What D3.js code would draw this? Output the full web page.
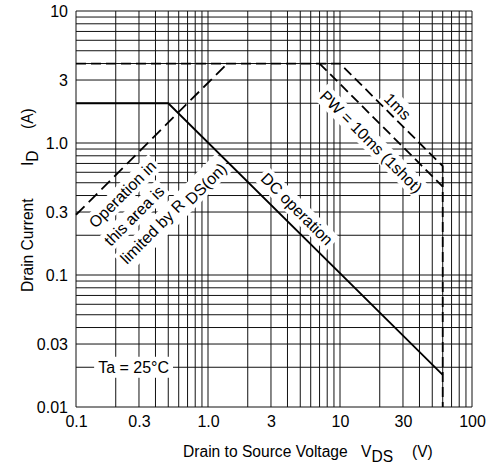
<!DOCTYPE html>
<html>
<head>
<meta charset="utf-8">
<script src="https://cdn.jsdelivr.net/npm/d3@7"></script>
<style>
  html, body { margin: 0; padding: 0; background: #fff; }
  svg { display: block; font-family: "Liberation Sans", Arial, Helvetica, sans-serif; }
</style>
</head>
<body>
<svg id="chart" width="490" height="470"></svg>
<script>
// Axis ticks (log scales)
const xTicks = [0.1, 0.3, 1, 3, 10, 30, 100];
const xTickLabels = ["0.1", "0.3", "1.0", "3", "10", "30", "100"];
const yTicks = [0.01, 0.03, 0.1, 0.3, 1, 3, 10];
const yTickLabels = ["0.01", "0.03", "0.1", "0.3", "1.0", "3", "10"];

// Safe operating area boundaries: drain-source voltage (V) and drain current (A)
const dcV = [0.1, 0.5, 60];
const dcI = [2, 2, 0.0175];
const ms1V = [0.1, 10, 60, 60];
const ms1I = [4, 4, 0.667, 0.01];
const ms10V = [7, 60];
const ms10I = [4, 0.467];
const rdsV = [0.1, 1.4];
const rdsI = [0.286, 4];

const svg = d3.select("#chart");
const plotLeft = 76, plotTop = 11, plotSize = 396;

const x = d3.scaleLog().domain([0.1, 100]).range([plotLeft, plotLeft + plotSize]);
const y = d3.scaleLog().domain([0.01, 10]).range([plotTop + plotSize, plotTop]);

// Log grid: 1..9 in every decade
const gridX = [], gridY = [];
[0.1, 1, 10].forEach(d => d3.range(1, 10).forEach(k => gridX.push(d * k)));
gridX.push(100);
[0.01, 0.1, 1].forEach(d => d3.range(1, 10).forEach(k => gridY.push(d * k)));
gridY.push(10);

const grid = svg.append("g").attr("stroke", "#111").attr("stroke-width", 1);
grid.selectAll("line.v").data(gridX).join("line").attr("class", "v")
  .attr("x1", d => x(d)).attr("x2", d => x(d))
  .attr("y1", plotTop).attr("y2", plotTop + plotSize);
grid.selectAll("line.h").data(gridY).join("line").attr("class", "h")
  .attr("y1", d => y(d)).attr("y2", d => y(d))
  .attr("x1", plotLeft).attr("x2", plotLeft + plotSize);

// Tick labels
const xAxis = d3.axisBottom(x).tickValues(xTicks)
  .tickFormat((d, i) => xTickLabels[i]).tickSize(0).tickPadding(9);
const gx = svg.append("g").attr("transform", `translate(0,${plotTop + plotSize})`).call(xAxis);
gx.select(".domain").remove();
gx.selectAll("text").attr("font-size", 16).attr("fill", "#000")
  .attr("font-family", "Liberation Sans, Arial, sans-serif");

const yAxis = d3.axisLeft(y).tickValues(yTicks)
  .tickFormat((d, i) => yTickLabels[i]).tickSize(0).tickPadding(8);
const gy = svg.append("g").attr("transform", `translate(${plotLeft},0)`).call(yAxis);
gy.select(".domain").remove();
gy.selectAll("text").attr("font-size", 16).attr("fill", "#000")
  .attr("font-family", "Liberation Sans, Arial, sans-serif");

// Axis titles
svg.append("text").attr("x", 183).attr("y", 457).attr("font-size", 15.6)
  .text("Drain to Source Voltage");
svg.append("text").attr("x", 361).attr("y", 457).attr("font-size", 15.6)
  .call(t => { t.append("tspan").text("V"); t.append("tspan").attr("dy", 5).text("DS"); });
svg.append("text").attr("x", 412).attr("y", 457).attr("font-size", 15.6).text("(V)");

const yt = svg.append("g").attr("transform", "translate(33,0) rotate(-90)");
yt.append("text").attr("x", -292).attr("y", 0).attr("font-size", 15.6).text("Drain Current");
yt.append("text").attr("x", -166).attr("y", 0).attr("font-size", 15.6)
  .call(t => { t.append("tspan").text("I"); t.append("tspan").attr("dy", 5).text("D"); });
yt.append("text").attr("x", -129).attr("y", 0).attr("font-size", 15.6).text("(A)");

// Annotation with a white box that knocks out the grid behind it
function note(v, i, angle, build, pad) {
  const g = svg.append("g")
    .attr("transform", `translate(${x(v)},${y(i)}) rotate(${angle})`);
  const t = g.append("text").attr("text-anchor", "middle")
    .attr("dominant-baseline", "central").attr("font-size", 16);
  build(t);
  const b = t.node().getBBox();
  g.insert("rect", "text")
    .attr("x", b.x - pad).attr("y", b.y - pad / 2)
    .attr("width", b.width + 2 * pad).attr("height", b.height + pad)
    .attr("fill", "#fff");
  return g;
}

note(0.225, 0.409, -45, t => t.text("Operation in"), 3);
note(0.276, 0.281, -45, t => t.text("this area is"), 3);
note(0.531, 0.302, -45, t => {
  t.append("tspan").text("limited by R ");
  t.append("tspan").attr("dy", 4).text("DS(on)");
}, 3);
note(4.72, 0.316, 45, t => t.text("DC operation"), 3);
note(17.2, 1.02, 45, t => t.text("PW = 10ms (1shot)"), 3);
note(27.3, 1.89, 45, t => t.text("1ms"), 3);
note(0.273, 0.02, 0, t => t.text("Ta = 25°C"), 4);

// Boundary curves
const line = d3.line().x(d => x(d[0])).y(d => y(d[1]));
const curve = (vs, is, dash) => svg.append("path")
  .attr("d", line(d3.zip(vs, is)))
  .attr("fill", "none").attr("stroke", "#000").attr("stroke-width", 1.8)
  .attr("stroke-dasharray", dash);

curve(dcV, dcI, null);
curve(ms1V, ms1I, "10,5");
curve(ms10V, ms10I, "10,5");
curve(rdsV, rdsI, "12,6");
</script>
</body>
</html>
